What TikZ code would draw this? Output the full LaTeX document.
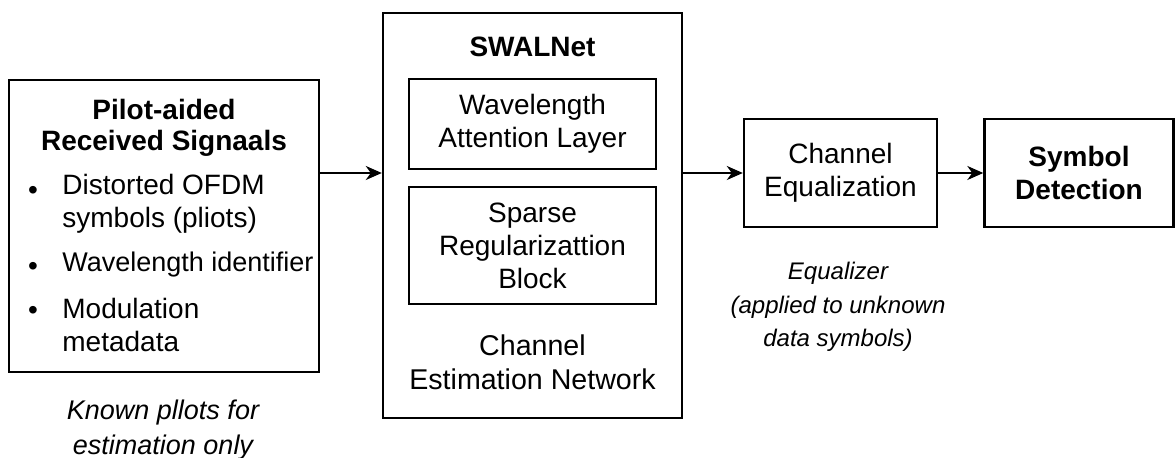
\documentclass[tikz,border=0pt]{standalone}
\usepackage{fontspec}
\setmainfont{Liberation Sans}
\usetikzlibrary{arrows.meta}
\begin{document}
\begin{tikzpicture}[x=0.5pt,y=0.5pt]
\tikzstyle{every node}+=[inner sep=0pt, font=\fontsize{14}{16.5}\selectfont]
\tikzstyle{box}=[draw, line width=1.2pt, rectangle]
\tikzstyle{inbox}=[draw, line width=1pt, rectangle, align=center]
\tikzstyle{note}=[align=center, font=\fontsize{13}{17}\selectfont\itshape]
\tikzstyle{flow}=[line width=1pt, -{Stealth[length=8pt,width=7pt,inset=2.5pt]}]
\useasboundingbox (0,0) rectangle (1176,-458);
% input signals
\node[box, minimum width=155pt, minimum height=146pt] (inp) at (164,-226) {};
\node[align=center, font=\fontsize{14}{15.5}\selectfont\bfseries] (inptitle) at (164,-128) {Pilot-aided\\Received Signaals};
\node (b1) at (33,-193) {\textbullet};
\node[anchor=west, align=left] (i1) at (62,-204) {Distorted OFDM\\symbols (pliots)};
\node (b2) at (33,-269) {\textbullet};
\node[anchor=west, font=\fontsize{13.5}{16.5}\selectfont] (i2) at (62,-265) {Wavelength identifier};
\node (b3) at (33,-313) {\textbullet};
\node[anchor=west, align=left] (i3) at (62,-325) {Modulation\\metadata};
\node[note, font=\fontsize{13.5}{17.5}\selectfont\itshape] (pilotnote) at (163,-430) {Known pllots for\\estimation only};
% estimation network
\node[box, minimum width=149.5pt, minimum height=202.5pt] (swal) at (532.5,-215.5) {};
\node[font=\fontsize{14}{16.5}\selectfont\bfseries] (swaltitle) at (532.5,-47) {SWALNet};
\node[inbox, minimum width=123.5pt, minimum height=45pt] (wal) at (532.5,-124) {Wavelength\\Attention Layer};
\node[inbox, minimum width=123.5pt, minimum height=58.5pt] (sparse) at (532.5,-245.5) {Sparse\\Regularizattion\\Block};
\node[align=center, font=\fontsize{14.3}{17}\selectfont] (swalname) at (532.5,-362) {Channel\\Estimation Network};
% equalizer and detection
\node[box, align=center, minimum width=96.5pt, minimum height=54pt] (eq) at (840.5,-173) {Channel\\Equalization};
\node[box, align=center, minimum width=94.5pt, minimum height=54pt, font=\fontsize{14}{16.5}\selectfont\bfseries] (det) at (1079,-173) {Symbol\\Detection};
\node[note, font=\fontsize{12}{16.75}\selectfont\itshape] (eqnote) at (838,-307) {Equalizer\\(applied to unknown\\data symbols)};
% arrows
\draw[flow] (inp.east |- eq.west) -- (swal.west |- eq.west);
\draw[flow] (swal.east |- eq.west) -- (eq.west);
\draw[flow] (eq.east) -- (det.west);
\end{tikzpicture}
\end{document}
